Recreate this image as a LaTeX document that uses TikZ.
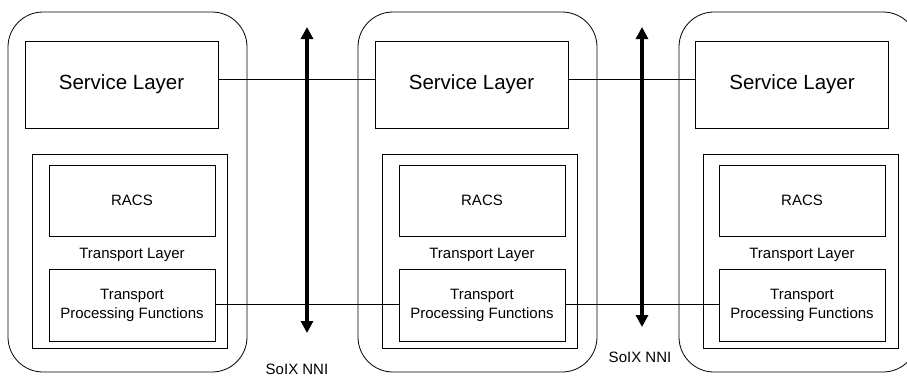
\documentclass[tikz,border=0pt]{standalone}
\usepackage{fontspec}
\setmainfont{Liberation Sans}
\usetikzlibrary{arrows.meta}
\begin{document}
\begin{tikzpicture}[x=1pt,y=-1pt,
  container/.style={draw, line width=0.8pt, rounded corners=35pt, minimum width=239pt, minimum height=360pt, inner sep=0pt},
  svcbox/.style={draw, line width=0.8pt, minimum width=193pt, minimum height=87pt, inner sep=0pt, font=\fontsize{20.5}{24}\selectfont},
  tlbox/.style={draw, line width=0.8pt, minimum width=195pt, minimum height=194pt, inner sep=0pt},
  racsbox/.style={draw, line width=0.8pt, minimum width=166pt, minimum height=71pt, inner sep=0pt, font=\fontsize{15}{18}\selectfont},
  tpfbox/.style={draw, line width=0.8pt, minimum width=166pt, minimum height=72pt, inner sep=0pt, align=center, font=\fontsize{15}{19}\selectfont},
  lbl/.style={font=\fontsize{15}{18}\selectfont, inner sep=0pt},
  link/.style={line width=0.8pt},
  nni/.style={line width=3.8pt, {Triangle[width=12pt,length=12pt]}-{Triangle[width=12pt,length=12pt]}}
]
\clip (0,0) rectangle (907,378);
\fill[white] (0,0) rectangle (907,378);

% containers
\node[container] (c1) at (127.5,192) {};
\node[container] (c2) at (477.5,192) {};
\node[container] (c3) at (798.5,192) {};

% service layers
\node[svcbox] (s1) at (121.5,84.5) {Service Layer};
\node[svcbox] (s2) at (471.5,84.5) {Service Layer};
\node[svcbox] (s3) at (792,84.5) {Service Layer};

% transport layer frames
\node[tlbox] (t1) at (129.5,251) {};
\node[tlbox] (t2) at (479.5,251) {};
\node[tlbox] (t3) at (800.5,251) {};

% RACS
\node[racsbox] (r1) at (132,200.5) {RACS};
\node[racsbox] (r2) at (482,200.5) {RACS};
\node[racsbox] (r3) at (802,200.5) {RACS};

% transport layer labels
\node[lbl] (tl1) at (132,255) {Transport Layer};
\node[lbl] (tl2) at (482,255) {Transport Layer};
\node[lbl] (tl3) at (802,255) {Transport Layer};

% TPF
\node[tpfbox] (p1) at (132,305) {Transport\\Processing Functions};
\node[tpfbox] (p2) at (482,305) {Transport\\Processing Functions};
\node[tpfbox] (p3) at (802,305) {Transport\\Processing Functions};

% links
\draw[link] (s1.east |- 0,79) -- (s2.west |- 0,79);
\draw[link] (s2.east |- 0,79) -- (s3.west |- 0,79);
\draw[link] (p1.east |- 0,304) -- (p2.west |- 0,304);
\draw[link] (p2.east |- 0,304) -- (p3.west |- 0,304);

% NNI arrows
\coordinate (a1t) at (307,27);
\coordinate (a1b) at (307,333);
\coordinate (a2t) at (642,27);
\coordinate (a2b) at (642,327);
\draw[nni] (a1t) -- (a1b);
\draw[nni] (a2t) -- (a2b);

\node[lbl] (n1) at (297,369) {SoIX NNI};
\node[lbl] (n2) at (640,357) {SoIX NNI};
\end{tikzpicture}
\end{document}
